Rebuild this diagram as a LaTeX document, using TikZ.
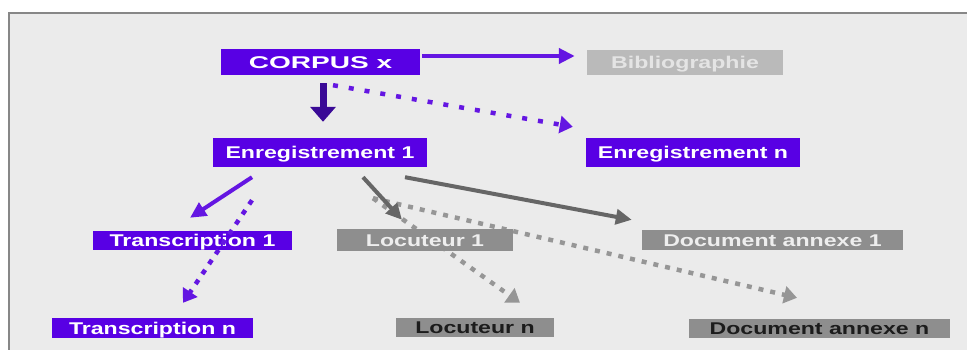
\documentclass[tikz,border=0pt]{standalone}
\usepackage{fontspec}
\setmainfont{Liberation Sans}
\newfontfamily\boxfont{Liberation Sans}[FakeStretch=1.36]
\newfontfamily\corpusfont{Liberation Sans}[FakeStretch=1.65]
\usetikzlibrary{calc,arrows.meta}

\definecolor{panelgray}{RGB}{235,235,235}
\definecolor{framegray}{RGB}{135,135,135}
\definecolor{boxviolet}{RGB}{88,0,228}
\definecolor{darkviolet}{RGB}{58,10,150}
\definecolor{violetline}{RGB}{100,22,226}
\definecolor{palegray}{RGB}{186,186,186}
\definecolor{paletext}{RGB}{228,228,228}
\definecolor{midgray}{RGB}{142,142,142}
\definecolor{lighttext}{RGB}{238,238,238}
\definecolor{darktext}{RGB}{28,28,28}
\definecolor{greyline}{RGB}{102,102,102}
\definecolor{greydots}{RGB}{150,150,150}

\pgfdeclarelayer{panel}
\pgfdeclarelayer{under}
\pgfsetlayers{panel,under,main}

\begin{document}
\begin{tikzpicture}[
        x=1pt, y=-1pt,
        box/.style={inner sep=0pt, text height=12.2pt, text depth=0pt,
          font=\boxfont\bfseries\fontsize{17}{17}\selectfont},
        violetbox/.style={box, fill=boxviolet, text=white},
        palebox/.style={box, fill=palegray, text=paletext},
        greybox/.style={box, fill=midgray, text=lighttext},
        darkbox/.style={box, fill=midgray, text=darktext},
        link/.style={line width=4pt, -{Triangle[length=16pt, width=15pt]}},
        dotlink/.style={line width=4.5pt, dash pattern=on 5pt off 7pt, -{Triangle[length=13pt, width=17pt]}}
      ]
      \useasboundingbox (0,0) rectangle (967,350);

      % the grey panel
      \begin{pgfonlayer}{panel}
        \fill[white] (0,0) rectangle (967,350);
        \fill[panelgray] (9,13) rectangle (967,350);
        \draw[framegray, line width=2.5pt] (9,350) -- (9,13) -- (967,13);
      \end{pgfonlayer}

      \node (corpus) at (320.5,62) [violetbox, minimum width=199pt, minimum height=26pt,
        font=\corpusfont\bfseries\fontsize{17}{17}\selectfont] {CORPUS x};
      \node (biblio) at (685,62.5) [palebox, minimum width=196pt, minimum height=25pt] {Bibliographie};
      \node (enr1) at (320,152.5) [violetbox, minimum width=214pt, minimum height=29pt] {Enregistrement 1};
      \node (enrn) at (693,152.5) [violetbox, minimum width=214pt, minimum height=29pt] {Enregistrement n};
      \node (trans1) at (192.5,240.5) [violetbox, minimum width=199pt, minimum height=19pt] {Transcription 1};
      \node (transn) at (152.5,328) [violetbox, minimum width=201pt, minimum height=20pt] {Transcription n};
      \node (loc1) at (425,240) [greybox, minimum width=176pt, minimum height=22pt] {Locuteur 1};
      \node (locn) at (475,327.5) [darkbox, minimum width=158pt, minimum height=19pt] {Locuteur n};
      \node (doc1) at (772.5,240) [greybox, minimum width=261pt, minimum height=20pt] {Document annexe 1};
      \node (docn) at (819.5,328.5) [darkbox, minimum width=261pt, minimum height=19pt] {Document annexe n};

      \path
        ($(corpus.east)+(2,-6)$) edge[link, draw=violetline] ($(biblio.west)+(-12,-6.5)$)
        ($(corpus.south)+(2.5,8)$) edge[link, draw=darkviolet, line width=7pt,
          -{Triangle[length=15pt, width=25pt]}] ($(enr1.north)+(3,-16)$)
        ($(corpus.south)+(12.5,10)$) edge[dotlink, draw=violetline, dash pattern=on 5pt off 11pt]
          ($(enrn.north west)+(-13,-11)$)
        ($(enr1.south)+(-68,10)$) edge[link, draw=violetline] ($(trans1.north)+(-2.5,-13)$)
        ($(enr1.south)+(-68,33)$) edge[dotlink, draw=violetline] ($(transn.north)+(30.5,-15)$)
        ($(enr1.south)+(43,10)$) edge[link, draw=greyline] ($(loc1.north)+(-23,-9)$)
        ($(enr1.south)+(85,10)$) edge[link, draw=greyline] ($(doc1.north west)+(-10,-10)$);

      % dotted links pass under Locuteur 1
      \begin{pgfonlayer}{under}
        \path
          ($(enr1.south)+(53,31)$) edge[dotlink, draw=greydots] ($(locn.north)+(45,-15)$)
          ($(enr1.south)+(53,31)$) edge[dotlink, draw=greydots] ($(docn.north)+(-22.5,-21)$);
      \end{pgfonlayer}
    \end{tikzpicture}
\end{document}
